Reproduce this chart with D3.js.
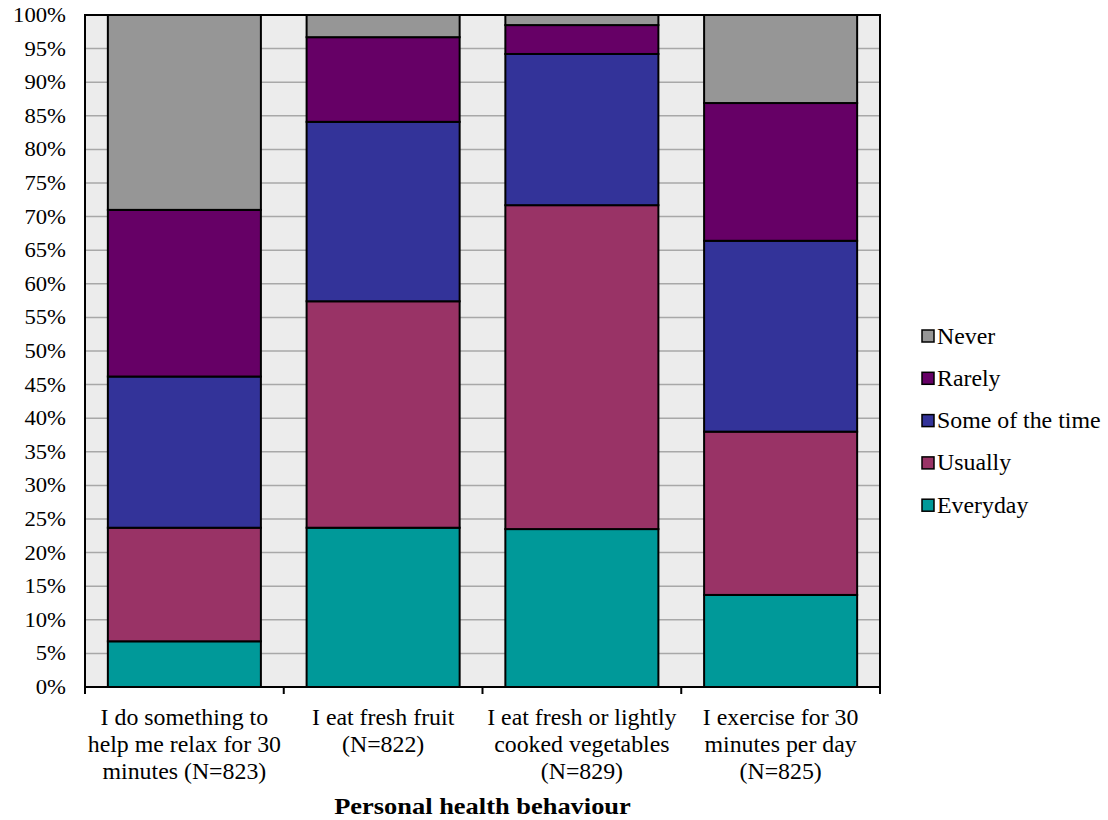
<!DOCTYPE html>
<html><head><meta charset="utf-8">
<script src="https://cdn.jsdelivr.net/npm/d3@7"></script>
<style>body{margin:0;background:#fff}</style>
</head><body>
<svg id="chart" width="1108" height="820"></svg>
<script>
const categories = [
  ["I do something to", "help me relax for 30", "minutes (N=823)"],
  ["I eat fresh fruit", "(N=822)"],
  ["I eat fresh or lightly", "cooked vegetables", "(N=829)"],
  ["I exercise for 30", "minutes per day", "(N=825)"]
];
const seriesNames = ["Everyday", "Usually", "Some of the time", "Rarely", "Never"];
const everyday = [6.8, 23.7, 23.5, 13.7];
const usually  = [16.9, 33.7, 48.2, 24.3];
const someTime = [22.5, 26.7, 22.5, 28.4];
const rarely   = [24.8, 12.6, 4.3, 20.5];
const never    = [29.0, 3.3, 1.5, 13.1];
const colors = ["#009999", "#993366", "#333399", "#660066", "#969696"];
const yTicks = d3.range(0, 101, 5);
const xTitle = "Personal health behaviour";

const FONT = '"Liberation Serif", "Times New Roman", Times, serif';
const svg = d3.select("#chart");
const m = {left: 85, right: 880, top: 15, bottom: 687};

const x = d3.scaleBand().domain(d3.range(categories.length)).range([m.left, m.right]).paddingInner(0.23).paddingOuter(0.115);
const y = d3.scaleLinear().domain([0, 100]).range([m.bottom, m.top]);

svg.append("rect").attr("x", m.left).attr("y", m.top).attr("width", m.right - m.left).attr("height", m.bottom - m.top).attr("fill", "#ececec");
svg.append("g").selectAll("line").data(yTicks.slice(1, -1)).join("line")
  .attr("x1", m.left).attr("x2", m.right).attr("y1", d => y(d)).attr("y2", d => y(d))
  .attr("stroke", "#a8a8a8").attr("stroke-width", 1.5);

const series = [everyday, usually, someTime, rarely, never];
const rows = categories.map((c, i) => {
  const o = {i};
  seriesNames.forEach((s, k) => o[s] = series[k][i]);
  return o;
});
const stacked = d3.stack().keys(seriesNames)(rows);

svg.append("g").selectAll("g").data(stacked).join("g")
  .attr("fill", (d, k) => colors[k])
  .selectAll("rect").data(d => d).join("rect")
  .attr("x", d => x(d.data.i)).attr("width", x.bandwidth())
  .attr("y", d => y(d[1])).attr("height", d => y(d[0]) - y(d[1]))
  .attr("stroke", "#000").attr("stroke-width", 2);

svg.append("rect").attr("x", m.left).attr("y", m.top).attr("width", m.right - m.left).attr("height", m.bottom - m.top)
  .attr("fill", "none").attr("stroke", "#000").attr("stroke-width", 2);

function stretched(parent, px, py, str, size, anchor, sx, weight) {
  const g = parent.append("g").attr("transform", `translate(${px},${py}) scale(${sx},1)`);
  g.append("text").attr("x", 0).attr("y", 0).attr("text-anchor", anchor)
    .style("font-family", FONT).attr("font-size", size)
    .attr("font-weight", weight || "normal").attr("fill", "#000").text(str);
  return g;
}

const yl = svg.append("g");
yTicks.forEach(d => stretched(yl, 66, y(d) + 7, d + "%", 21, "end", 1.08));

const bounds = d3.range(categories.length + 1).map(i => m.left + i * (m.right - m.left) / categories.length);
svg.append("g").selectAll("line").data(bounds).join("line")
  .attr("x1", d => d).attr("x2", d => d).attr("y1", m.bottom).attr("y2", m.bottom + 7)
  .attr("stroke", "#000").attr("stroke-width", 2);

const cl = svg.append("g");
categories.forEach((lines, i) => {
  lines.forEach((ln, j) => stretched(cl, x(i) + x.bandwidth() / 2, 725 + j * 27, ln, 22.5, "middle", 1.06));
});

stretched(svg, (m.left + m.right) / 2, 814, xTitle, 23, "middle", 1.15, "bold");

const legOrder = seriesNames.map((s, k) => ({s, c: colors[k]})).reverse();
const lg = svg.append("g").selectAll("g").data(legOrder).join("g")
  .attr("transform", (d, k) => `translate(922, ${336 + k * 42.3})`);
lg.append("rect").attr("x", 0).attr("y", -6).attr("width", 12).attr("height", 12)
  .attr("fill", d => d.c).attr("stroke", "#000").attr("stroke-width", 1.5);
lg.each(function(d) { stretched(d3.select(this), 15, 7.5, d.s, 22.5, "start", 1.06); });
</script>
</body></html>
